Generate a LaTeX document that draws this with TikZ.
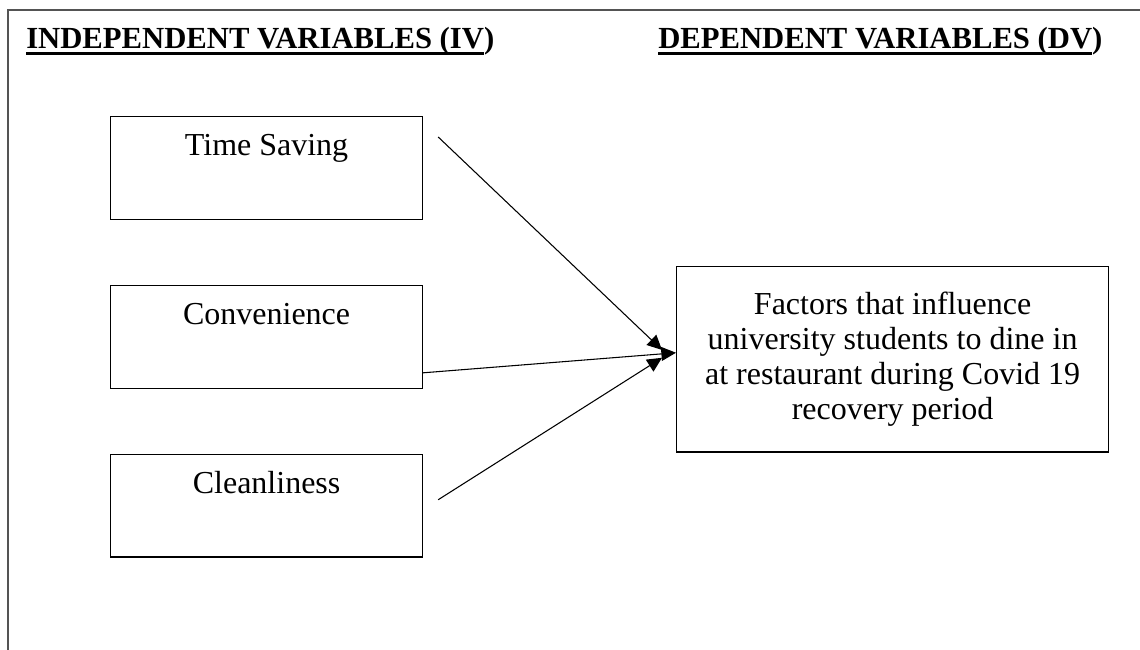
\documentclass[tikz,border=0pt]{standalone}
\usepackage{fontspec}
\setmainfont{Liberation Serif}
\usetikzlibrary{positioning,arrows.meta}
\newcommand\heavyul[1]{\setbox0\hbox{#1}\rlap{\rule[-5.5pt]{\wd0}{2.2pt}}\box0}

\begin{document}
\begin{tikzpicture}[x=0.75pt, y=-0.75pt, >={Triangle[length=11pt,width=10.5pt]},
  ivbox/.style={draw, line width=0.9pt, minimum width=234pt, inner xsep=0pt, inner ysep=0pt,
    text height=29pt, text depth=48pt, font=\fontsize{24}{27}\selectfont},
  dvbox/.style={draw, line width=0.9pt, minimum width=324pt, minimum height=139pt, align=center,
    font=\fontsize{24}{26.3}\selectfont},
  head/.style={font=\fontsize{23}{26}\selectfont\bfseries, inner sep=0pt, anchor=base west}]
\useasboundingbox (0,0) rectangle (1140,650);
% frame (top and left edge only)
\draw[line width=1.5pt, black!67] (1140,10) -- (8,10) -- (8,650);
% headings
\node[head] (ivh) at (26,48) {\heavyul{INDEPENDENT VARIABLES (IV})};
\node[head] (dvh) at (658,48) {\heavyul{DEPENDENT VARIABLES (DV})};
% independent variables
\node[ivbox, anchor=north west] (ts) at (110,116) {Time Saving};
\node[ivbox, below=48.75pt of ts] (cv) {Convenience};
\node[ivbox, below=48.75pt of cv] (cl) {Cleanliness};
% dependent variable
\node[dvbox, anchor=north west] (dv) at (676,266) {Factors that influence\\university students to dine in\\at restaurant during Covid 19\\recovery period};
\draw[->, line width=0.8pt] ([xshift=11.25pt, yshift=-15.75pt]ts.north east) -- ([xshift=-10.5pt, yshift=7pt]dv.west);
\draw[->, line width=0.8pt] ([yshift=-27pt]cv.east) -- ([yshift=4.9pt]dv.west);
\draw[->, line width=0.8pt] ([xshift=11.25pt, yshift=-34.5pt]cl.north east) -- ([xshift=-10.5pt, yshift=1.1pt]dv.west);
\end{tikzpicture}
\end{document}
